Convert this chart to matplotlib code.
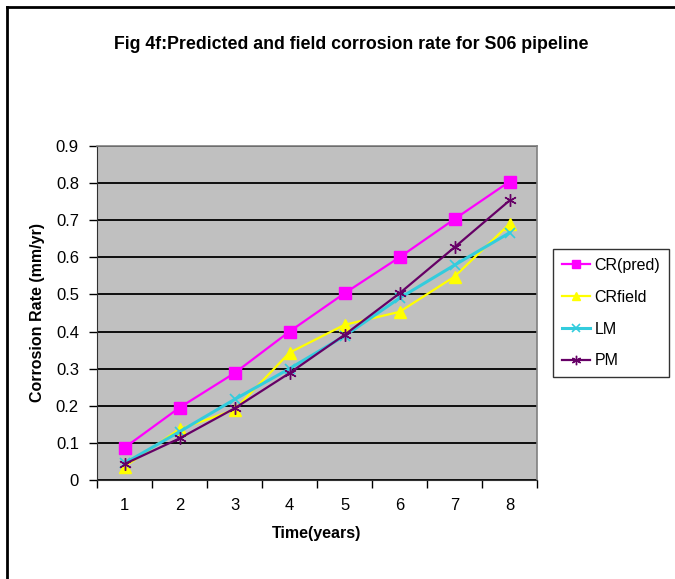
import matplotlib
matplotlib.use("Agg")
import matplotlib.pyplot as plt
from matplotlib.lines import Line2D

plt.rcParams['font.family'] = ['Liberation Sans', 'DejaVu Sans']

years = [1, 2, 3, 4, 5, 6, 7, 8]
cr_pred = [0.087, 0.195, 0.288, 0.400, 0.503, 0.600, 0.703, 0.804]
cr_field = [0.036, 0.137, 0.189, 0.343, 0.418, 0.453, 0.548, 0.690]
lm = [0.045, 0.130, 0.217, 0.300, 0.388, 0.490, 0.579, 0.666]
pm = [0.043, 0.112, 0.193, 0.288, 0.391, 0.503, 0.627, 0.753]
y_ticks = [0, 0.1, 0.2, 0.3, 0.4, 0.5, 0.6, 0.7, 0.8, 0.9]

fig = plt.figure(figsize=(6.75, 5.79), dpi=100)
ax = fig.add_axes([0.1437, 0.171, 0.652, 0.577])
ax.set_facecolor('#c0c0c0')

ax.plot(years, cr_pred, color='#ff00ff', lw=1.6, marker='s', ms=8, label='CR(pred)')
ax.plot(years, cr_field, color='#ffff00', lw=1.6, marker='^', ms=8, label='CRfield')
ax.plot(years, lm, color='#33ccdd', lw=2.2, marker='x', ms=7, mew=1.2, label='LM')
ax.plot(years, pm, color='#660066', lw=1.6, marker=(6, 2, 0), ms=9, mew=1.0, label='PM')

ax.set_xlim(0.5, 8.5)
ax.set_ylim(0, 0.9)
ax.set_yticks(y_ticks)
ax.set_yticklabels(['0' if v == 0 else f'{v:.1f}' for v in y_ticks])
ax.set_xticks(years)
ax.set_xticks([x + 0.5 for x in range(0, 9)], minor=True)
ax.tick_params(axis='x', which='major', length=0, pad=13, labelsize=12)
ax.tick_params(axis='x', which='minor', length=6, width=1, direction='out')
ax.tick_params(axis='y', length=6, width=1, direction='out', pad=7, labelsize=12)
ax.grid(axis='y', color='black', lw=1.3)
ax.set_axisbelow(True)

for side in ['top', 'right']:
    ax.spines[side].set_color('#808080')
    ax.spines[side].set_linewidth(1.2)
for side in ['left', 'bottom']:
    ax.spines[side].set_color('#303030')

ax.set_xlabel('Time(years)', fontsize=11.5, fontweight='bold', labelpad=9)
ax.set_ylabel('Corrosion Rate (mm/yr)', fontsize=11.5, fontweight='bold', labelpad=8)

fig.text(0.52, 0.924, 'Fig 4f:Predicted and field corrosion rate for S06 pipeline',
         ha='center', va='center', fontsize=12.8, fontweight='bold')

leg = fig.legend(loc='center left', bbox_to_anchor=(0.819, 0.459), fontsize=11.5,
                 frameon=True, fancybox=False, edgecolor='black', handlelength=1.8,
                 labelspacing=1.05, borderpad=0.55, handletextpad=0.25, borderaxespad=0,
                 markerscale=0.75)
leg.get_frame().set_linewidth(1.0)

# outer frame: left and top edges only
fig.add_artist(Line2D([0.011, 0.011], [0.0, 0.988], transform=fig.transFigure, color='black', lw=2))
fig.add_artist(Line2D([0.011, 1.0], [0.988, 0.988], transform=fig.transFigure, color='black', lw=2))

fig.savefig('out.png', dpi=100)
